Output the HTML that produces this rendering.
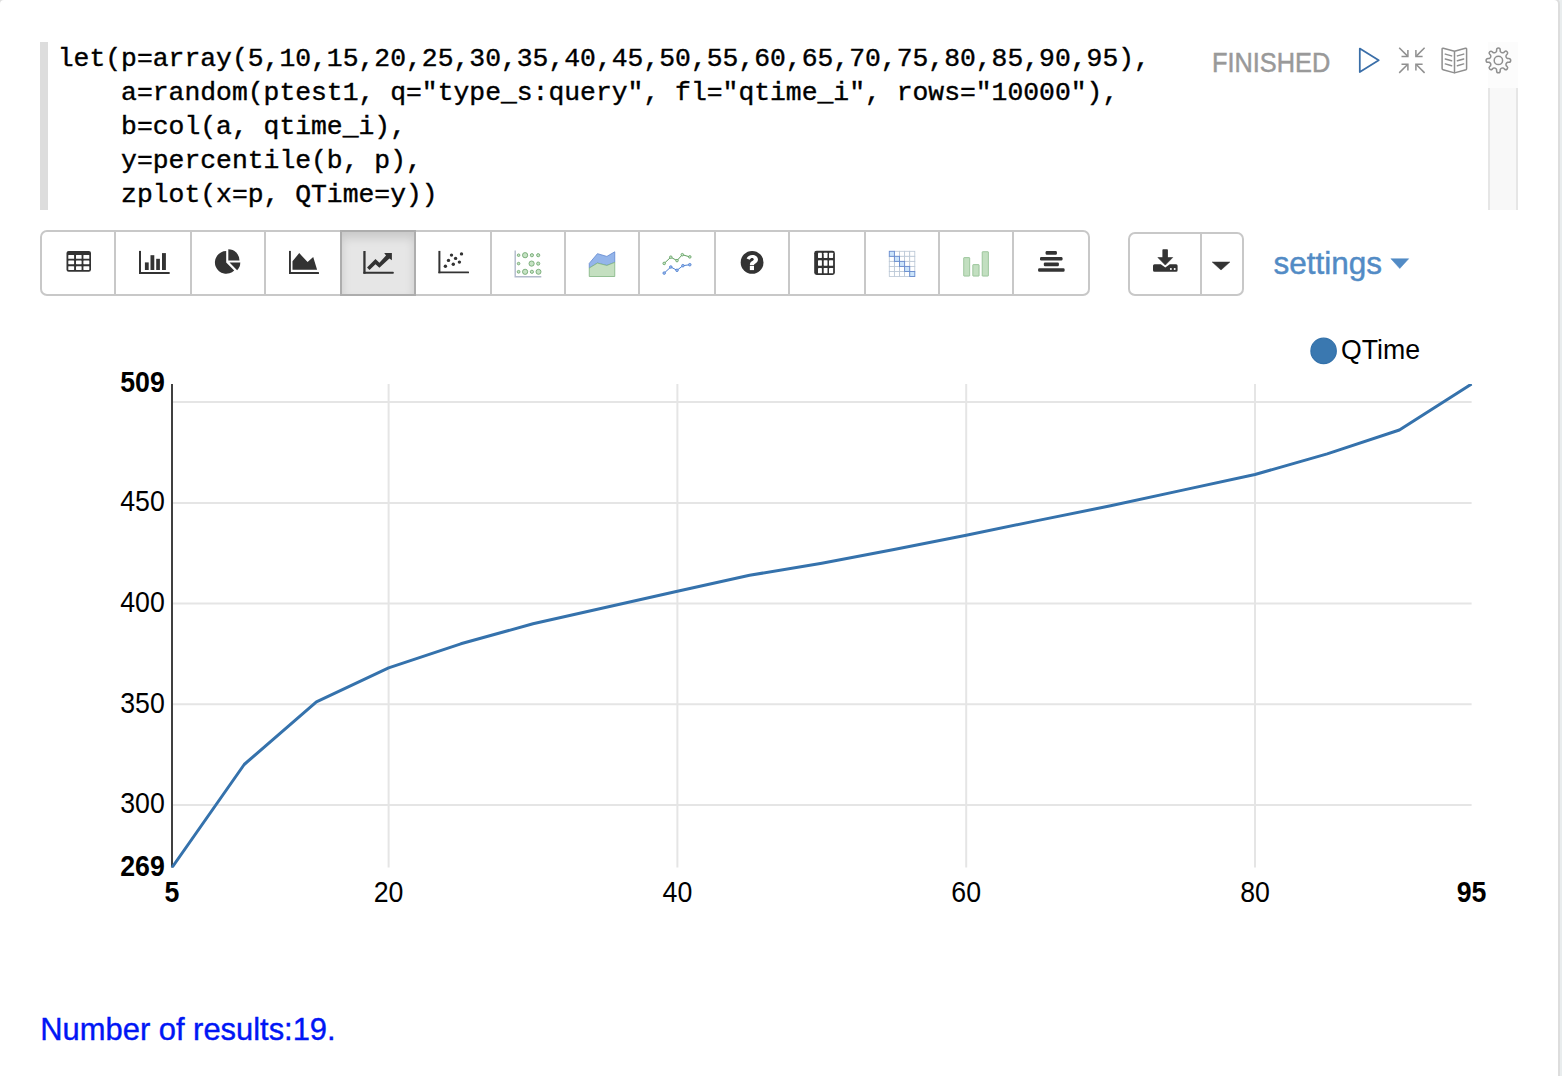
<!DOCTYPE html>
<html><head><meta charset="utf-8">
<style>
html,body{margin:0;padding:0;}
body{width:1562px;height:1076px;overflow:hidden;background:#e9edee;position:relative;font-family:"Liberation Sans",sans-serif;}
#panel{position:absolute;left:-2px;top:-2px;width:1558px;height:1200px;border:2px solid #dddddd;border-radius:6px;background:#fff;}
.abs{position:absolute;}
#codebar{left:40px;top:42px;width:8px;height:168px;background:#dddddd;}
#code{left:57.8px;top:42px;font-family:"Liberation Mono",monospace;font-size:26.39px;line-height:34px;color:#000;-webkit-text-stroke:0.4px #000;white-space:pre;margin:0;}
#scroll{left:1488px;top:88px;width:26px;height:122px;border-left:2px solid #e6e6e6;border-right:2px solid #e6e6e6;background:#f8f8f8;}
#finished{left:1212px;top:46px;-webkit-text-stroke:0.5px #999;font-size:27.4px;color:#999;line-height:34px;transform:scaleX(0.925);transform-origin:0 0;}
.grp{position:absolute;border:2px solid #c8c8c8;border-radius:7px;background:#fff;box-sizing:border-box;}
.sep{position:absolute;width:2px;background:#c8c8c8;}
#settings{left:1273.5px;top:242.5px;-webkit-text-stroke:0.45px #528bc5;font-size:31.5px;color:#528bc5;line-height:40px;}
#nres{left:40.3px;top:1009.6px;-webkit-text-stroke:0.4px #0016f5;font-size:30.9px;color:#0016f5;line-height:40px;}
svg{position:absolute;left:0;top:0;overflow:visible;}
</style></head>
<body>
<div id="panel"></div>
<div class="abs" id="codebar"></div>
<pre class="abs" id="code">let(p=array(5,10,15,20,25,30,35,40,45,50,55,60,65,70,75,80,85,90,95),
    a=random(ptest1, q="type_s:query", fl="qtime_i", rows="10000"),
    b=col(a, qtime_i),
    y=percentile(b, p),
    zplot(x=p, QTime=y))</pre>
<div class="abs" style="left:1488px;top:42px;width:30px;height:46px;background:#fcfcfc;"></div>
<div class="abs" id="scroll"></div>
<div class="abs" id="finished">FINISHED</div>

<!-- toolbar group -->
<div class="grp" style="left:40px;top:230px;width:1050px;height:66px;"></div>
<div class="abs" style="left:340px;top:230px;width:76px;height:66px;box-sizing:border-box;border:2px solid #adadad;background:#e6e6e6;box-shadow:inset 0 6px 10px rgba(0,0,0,.125);"></div>
<div class="sep" style="left:114px;top:230px;height:66px;"></div>
<div class="sep" style="left:190px;top:230px;height:66px;"></div>
<div class="sep" style="left:264px;top:230px;height:66px;"></div>
<div class="sep" style="left:490px;top:230px;height:66px;"></div>
<div class="sep" style="left:564px;top:230px;height:66px;"></div>
<div class="sep" style="left:638px;top:230px;height:66px;"></div>
<div class="sep" style="left:714px;top:230px;height:66px;"></div>
<div class="sep" style="left:788px;top:230px;height:66px;"></div>
<div class="sep" style="left:864px;top:230px;height:66px;"></div>
<div class="sep" style="left:938px;top:230px;height:66px;"></div>
<div class="sep" style="left:1012px;top:230px;height:66px;"></div>

<!-- download group -->
<div class="grp" style="left:1128px;top:232px;width:116px;height:64px;"></div>
<div class="sep" style="left:1200px;top:232px;height:64px;"></div>

<div class="abs" id="settings">settings</div>
<div class="abs" id="nres">Number of results:19.</div>

<svg width="1562" height="1076" viewBox="0 0 1562 1076">
<g id="icons">
<rect x="66.5" y="250.9" width="24.5" height="20.9" rx="2.2" fill="#333333"/>
<rect x="68.3" y="254.9" width="5.8" height="3.9" rx="0.4" fill="#fff"/>
<rect x="68.3" y="260.6" width="5.8" height="3.6" rx="0.4" fill="#fff"/>
<rect x="68.3" y="266.3" width="5.8" height="3.7" rx="0.4" fill="#fff"/>
<rect x="76" y="254.9" width="5.6" height="3.9" rx="0.4" fill="#fff"/>
<rect x="76" y="260.6" width="5.6" height="3.6" rx="0.4" fill="#fff"/>
<rect x="76" y="266.3" width="5.6" height="3.7" rx="0.4" fill="#fff"/>
<rect x="83.4" y="254.9" width="5.9" height="3.9" rx="0.4" fill="#fff"/>
<rect x="83.4" y="260.6" width="5.9" height="3.6" rx="0.4" fill="#fff"/>
<rect x="83.4" y="266.3" width="5.9" height="3.7" rx="0.4" fill="#fff"/>
<rect x="139" y="250.9" width="2" height="22.9" fill="#333333"/>
<rect x="139" y="272" width="30.7" height="1.9" rx="0.5" fill="#333333"/>
<rect x="144.9" y="262.4" width="3.8" height="7.6" fill="#333333"/>
<rect x="150.5" y="255.2" width="3.8" height="14.8" fill="#333333"/>
<rect x="156.2" y="258.8" width="3.7" height="11.2" fill="#333333"/>
<rect x="162" y="253.1" width="3.9" height="16.9" fill="#333333"/>
<path d="M226.2 262.4 V251.1 A11.3 11.3 0 1 0 234.2 270.4 Z" fill="#333333"/>
<path d="M228.3 260.5 V249.3 A11.2 11.2 0 0 1 239.5 260.5 Z" fill="#333333"/>
<path d="M229.5 262.6 H240.3 A10.8 10.8 0 0 1 237.1 270.2 Z" fill="#333333"/>
<rect x="289" y="250.9" width="1.9" height="22.9" fill="#333333"/>
<rect x="289" y="272" width="30" height="1.9" rx="0.5" fill="#333333"/>
<polygon points="292.5,261.3 299.2,253.1 307.6,261.9 313.2,257 317.1,269.8 292.5,269.8" fill="#333333"/>
<rect x="363.3" y="251.1" width="2.3" height="22.7" rx="0.4" fill="#333333"/>
<rect x="363.3" y="271.8" width="30.5" height="2" rx="0.8" fill="#333333"/>
<polygon points="367.03,267.52 375.49,258.93 379.39,262.84 386.03,255.55 384.21,253.08 391.88,253.08 391.88,260.23 389.41,258.41 379.39,267.78 375.49,264.27 369.5,270.12" fill="#333333"/>
<rect x="438.4" y="250.9" width="2" height="22.3" fill="#333333"/>
<rect x="438.4" y="271.5" width="30.6" height="1.8" rx="0.5" fill="#333333"/>
<circle cx="445.4" cy="266.3" r="1.7" fill="#333333"/>
<circle cx="448.5" cy="260.4" r="1.7" fill="#333333"/>
<circle cx="451.5" cy="255.1" r="1.7" fill="#333333"/>
<circle cx="453.3" cy="264.3" r="1.7" fill="#333333"/>
<circle cx="455.6" cy="258.4" r="1.7" fill="#333333"/>
<circle cx="459.4" cy="262.1" r="1.7" fill="#333333"/>
<circle cx="461.5" cy="253.9" r="1.7" fill="#333333"/>
<path d="M515.2 250.6 V276.7 H541.3" fill="none" stroke="#b2bacb" stroke-width="1.4"/>
<circle cx="518.6" cy="255.2" r="1.3" fill="#c6e2c4" stroke="#6fa66f" stroke-width="0.85"/>
<circle cx="525.1" cy="255.2" r="2.6" fill="#c6e2c4" stroke="#6fa66f" stroke-width="0.85"/>
<circle cx="531.9" cy="255.2" r="1.6" fill="#c6e2c4" stroke="#6fa66f" stroke-width="0.85"/>
<circle cx="538.2" cy="255.2" r="1.6" fill="#c6e2c4" stroke="#6fa66f" stroke-width="0.85"/>
<circle cx="518.6" cy="263.6" r="1.3" fill="#c6e2c4" stroke="#6fa66f" stroke-width="0.85"/>
<circle cx="531.6" cy="263.6" r="2.6" fill="#c6e2c4" stroke="#6fa66f" stroke-width="0.85"/>
<circle cx="538.2" cy="263.6" r="1.6" fill="#c6e2c4" stroke="#6fa66f" stroke-width="0.85"/>
<circle cx="518.6" cy="271.8" r="1.4" fill="#c6e2c4" stroke="#6fa66f" stroke-width="0.85"/>
<circle cx="525.1" cy="271.8" r="2.6" fill="#c6e2c4" stroke="#6fa66f" stroke-width="0.85"/>
<circle cx="531.9" cy="271.8" r="1.6" fill="#c6e2c4" stroke="#6fa66f" stroke-width="0.85"/>
<circle cx="538.5" cy="271.8" r="2.5" fill="#c6e2c4" stroke="#6fa66f" stroke-width="0.85"/>
<polygon points="589.25,263.39 597.45,253.66 606.87,256.42 614.76,251.81 614.76,262.36 606.87,265.44 597.45,263.08 589.25,268.0" fill="#94b5ea" stroke="#5f86cf" stroke-width="0.8"/>
<polygon points="589.25,268.0 597.45,263.08 606.87,265.44 614.76,262.36 614.76,276.5 589.25,276.5" fill="#c4dfc0" stroke="#80b480" stroke-width="0.8"/>
<polyline points="664.2,263.4 670.8,257.2 677,260.6 682.3,254.7 689.8,256.9" fill="none" stroke="#5f9f5f" stroke-width="1"/>
<circle cx="664.2" cy="263.4" r="1.3" fill="#c9e5c9" stroke="#5f9f5f" stroke-width="0.8"/>
<circle cx="670.8" cy="257.2" r="1.3" fill="#c9e5c9" stroke="#5f9f5f" stroke-width="0.8"/>
<circle cx="677" cy="260.6" r="1.3" fill="#c9e5c9" stroke="#5f9f5f" stroke-width="0.8"/>
<circle cx="682.3" cy="254.7" r="1.3" fill="#c9e5c9" stroke="#5f9f5f" stroke-width="0.8"/>
<circle cx="689.8" cy="256.9" r="1.3" fill="#c9e5c9" stroke="#5f9f5f" stroke-width="0.8"/>
<polyline points="664.2,273.1 670.8,267 677,270.3 682.9,265.7 689.8,264.7" fill="none" stroke="#4d7fd0" stroke-width="1"/>
<circle cx="664.2" cy="273.1" r="1.3" fill="#9fbcec" stroke="#4d7fd0" stroke-width="0.8"/>
<circle cx="670.8" cy="267" r="1.3" fill="#9fbcec" stroke="#4d7fd0" stroke-width="0.8"/>
<circle cx="677" cy="270.3" r="1.3" fill="#9fbcec" stroke="#4d7fd0" stroke-width="0.8"/>
<circle cx="682.9" cy="265.7" r="1.3" fill="#9fbcec" stroke="#4d7fd0" stroke-width="0.8"/>
<circle cx="689.8" cy="264.7" r="1.3" fill="#9fbcec" stroke="#4d7fd0" stroke-width="0.8"/>
<circle cx="752.1" cy="262.4" r="11.4" fill="#333333"/>
<path d="M746.6 258.4 C747.6 256.2 749.6 254.9 752.3 254.9 C755.5 254.9 758.0 256.9 758.0 259.6 C758.0 262.0 756.2 263.0 755.1 263.7 C754.3 264.2 754.0 264.6 754.0 265.2 L749.9 265.2 L749.9 264.6 C749.9 263.0 750.8 262.0 752.0 261.3 C753.2 260.6 753.8 260.2 753.8 259.3 C753.8 258.5 753.0 257.9 752.1 257.9 C751.1 257.9 750.4 258.5 749.7 259.7 Z" fill="#fff"/>
<rect x="749.85" y="266" width="4.15" height="4.1" fill="#fff"/>
<rect x="814.2" y="250.8" width="20.7" height="24.2" rx="2.4" fill="#333333"/>
<rect x="818" y="252.8" width="3.9" height="5.2" rx="0.4" fill="#fff"/>
<rect x="818" y="260.3" width="3.9" height="5.4" rx="0.4" fill="#fff"/>
<rect x="818" y="268" width="3.9" height="5.3" rx="0.4" fill="#fff"/>
<rect x="823.7" y="252.8" width="3.8" height="5.2" rx="0.4" fill="#fff"/>
<rect x="823.7" y="260.3" width="3.8" height="5.4" rx="0.4" fill="#fff"/>
<rect x="823.7" y="268" width="3.8" height="5.3" rx="0.4" fill="#fff"/>
<rect x="829" y="252.8" width="4.1" height="5.2" rx="0.4" fill="#fff"/>
<rect x="829" y="260.3" width="4.1" height="5.4" rx="0.4" fill="#fff"/>
<rect x="829" y="268" width="4.1" height="5.3" rx="0.4" fill="#fff"/>
<rect x="894.40" y="251.30" width="5.10" height="5.04" fill="#fff" stroke="#bcc8d6" stroke-width="0.85"/>
<rect x="899.50" y="251.30" width="5.10" height="5.04" fill="#fff" stroke="#bcc8d6" stroke-width="0.85"/>
<rect x="904.60" y="251.30" width="5.10" height="5.04" fill="#fff" stroke="#bcc8d6" stroke-width="0.85"/>
<rect x="909.70" y="251.30" width="5.10" height="5.04" fill="#fff" stroke="#bcc8d6" stroke-width="0.85"/>
<rect x="889.30" y="256.34" width="5.10" height="5.04" fill="#fff" stroke="#bcc8d6" stroke-width="0.85"/>
<rect x="899.50" y="256.34" width="5.10" height="5.04" fill="#fff" stroke="#bcc8d6" stroke-width="0.85"/>
<rect x="904.60" y="256.34" width="5.10" height="5.04" fill="#fff" stroke="#bcc8d6" stroke-width="0.85"/>
<rect x="909.70" y="256.34" width="5.10" height="5.04" fill="#fff" stroke="#bcc8d6" stroke-width="0.85"/>
<rect x="889.30" y="261.38" width="5.10" height="5.04" fill="#fff" stroke="#bcc8d6" stroke-width="0.85"/>
<rect x="894.40" y="261.38" width="5.10" height="5.04" fill="#fff" stroke="#bcc8d6" stroke-width="0.85"/>
<rect x="904.60" y="261.38" width="5.10" height="5.04" fill="#fff" stroke="#bcc8d6" stroke-width="0.85"/>
<rect x="909.70" y="261.38" width="5.10" height="5.04" fill="#fff" stroke="#bcc8d6" stroke-width="0.85"/>
<rect x="889.30" y="266.42" width="5.10" height="5.04" fill="#fff" stroke="#bcc8d6" stroke-width="0.85"/>
<rect x="894.40" y="266.42" width="5.10" height="5.04" fill="#fff" stroke="#bcc8d6" stroke-width="0.85"/>
<rect x="899.50" y="266.42" width="5.10" height="5.04" fill="#fff" stroke="#bcc8d6" stroke-width="0.85"/>
<rect x="909.70" y="266.42" width="5.10" height="5.04" fill="#fff" stroke="#bcc8d6" stroke-width="0.85"/>
<rect x="889.30" y="271.46" width="5.10" height="5.04" fill="#fff" stroke="#bcc8d6" stroke-width="0.85"/>
<rect x="894.40" y="271.46" width="5.10" height="5.04" fill="#fff" stroke="#bcc8d6" stroke-width="0.85"/>
<rect x="899.50" y="271.46" width="5.10" height="5.04" fill="#fff" stroke="#bcc8d6" stroke-width="0.85"/>
<rect x="904.60" y="271.46" width="5.10" height="5.04" fill="#fff" stroke="#bcc8d6" stroke-width="0.85"/>
<rect x="889.30" y="251.30" width="5.10" height="5.04" fill="#cce5fb" stroke="#6a8dce" stroke-width="0.95"/>
<rect x="894.40" y="256.34" width="5.10" height="5.04" fill="#cce5fb" stroke="#6a8dce" stroke-width="0.95"/>
<rect x="899.50" y="261.38" width="5.10" height="5.04" fill="#cce5fb" stroke="#6a8dce" stroke-width="0.95"/>
<rect x="904.60" y="266.42" width="5.10" height="5.04" fill="#cce5fb" stroke="#6a8dce" stroke-width="0.95"/>
<rect x="909.70" y="271.46" width="5.10" height="5.04" fill="#cce5fb" stroke="#6a8dce" stroke-width="0.95"/>
<rect x="963.6999999999999" y="257.59999999999997" width="6.0" height="18.5" rx="0.5" fill="#c2dfc0" stroke="#8dbd8d" stroke-width="0.8"/>
<rect x="972.8" y="264.59999999999997" width="6.3" height="11.5" rx="0.5" fill="#c2dfc0" stroke="#8dbd8d" stroke-width="0.8"/>
<rect x="982.1999999999999" y="251.70000000000002" width="6.2" height="24.4" rx="0.5" fill="#c2dfc0" stroke="#8dbd8d" stroke-width="0.8"/>
<rect x="1045.6" y="251.1" width="11.3" height="3.6" rx="1.2" fill="#333333"/>
<rect x="1040" y="257" width="22.5" height="3.5" rx="1.2" fill="#333333"/>
<rect x="1043.8" y="262.6" width="15.1" height="3.6" rx="1.2" fill="#333333"/>
<rect x="1038.1" y="268.2" width="26.5" height="3.6" rx="1.2" fill="#333333"/>
<rect x="1162.4" y="249.3" width="5.5" height="9" rx="0.8" fill="#333333"/>
<polygon points="1157.9,257.5 1172.7,257.5 1165.3,265.1" fill="#333333" stroke="#333333" stroke-width="0.6" stroke-linejoin="round"/>
<path d="M1154.5 264.3 H1160.8 L1165.3 267.6 L1169.8 264.3 H1176.1 Q1177.6 264.3 1177.6 265.8 V270.3 Q1177.6 271.8 1176.1 271.8 H1154.5 Q1153 271.8 1153 270.3 V265.8 Q1153 264.3 1154.5 264.3 Z" fill="#333333"/>
<circle cx="1170.9" cy="269.1" r="1" fill="#fff"/><circle cx="1174.7" cy="269.1" r="1" fill="#fff"/>
<polygon points="1212.2,262 1229.9,262 1221,270" fill="#333333" stroke="#333333" stroke-width="0.5" stroke-linejoin="round"/>
<polygon points="1390.9,258.7 1408.7,258.7 1399.8,268.5" fill="#528bc5" stroke="#528bc5" stroke-width="0.5" stroke-linejoin="round"/>
<polygon points="1359.8,48.6 1378.7,60.3 1359.8,72" fill="none" stroke="#3a6ea8" stroke-width="1.75" stroke-linejoin="round"/>
<g fill="none" stroke="#8f8f8f" stroke-width="1.5" stroke-linecap="butt">
<line x1="1399.2" y1="47.8" x2="1407.3" y2="55.9"/><polyline points="1407.9,50.1 1407.9,56.4 1401.5,56.4"/>
<line x1="1424.6" y1="47.8" x2="1416.5" y2="55.9"/><polyline points="1415.9,50.1 1415.9,56.4 1422.6,56.4"/>
<line x1="1399.2" y1="72.9" x2="1407.3" y2="64.8"/><polyline points="1401.5,64.2 1407.9,64.2 1407.9,70.6"/>
<line x1="1424.6" y1="72.9" x2="1416.5" y2="64.8"/><polyline points="1422.6,64.2 1415.9,64.2 1415.9,70.6"/>
</g>
<g fill="none" stroke="#8f8f8f" stroke-width="1.5" stroke-linejoin="round" stroke-linecap="round">
<path d="M1454.5 51.3 L1443.3 48.3 Q1442.1 48 1442.1 49.3 V68.4 Q1442.1 69.4 1443.1 69.7 L1454.5 72.9 L1465.9 69.7 Q1466.6 69.4 1466.6 68.4 V49.3 Q1466.6 48 1465.4 48.3 Z M1454.5 51.3 V72.9"/>
<line x1="1445.3" y1="54.1" x2="1451.6" y2="55.9"/><line x1="1457.4" y1="55.9" x2="1463.7" y2="54.1"/>
<line x1="1445.3" y1="59.0" x2="1451.6" y2="60.8"/><line x1="1457.4" y1="60.8" x2="1463.7" y2="59.0"/>
<line x1="1445.3" y1="63.9" x2="1451.6" y2="65.7"/><line x1="1457.4" y1="65.7" x2="1463.7" y2="63.9"/>
</g>
<path d="M1496.60 51.20 L1496.60 49.90 A1.8 1.8 0 0 1 1500.20 49.90 L1500.20 51.20 A2.6 2.6 0 0 0 1503.63 52.62 L1504.55 51.70 A1.8 1.8 0 0 1 1507.10 54.25 L1506.18 55.17 A2.6 2.6 0 0 0 1507.60 58.60 L1508.90 58.60 A1.8 1.8 0 0 1 1508.90 62.20 L1507.60 62.20 A2.6 2.6 0 0 0 1506.18 65.63 L1507.10 66.55 A1.8 1.8 0 0 1 1504.55 69.10 L1503.63 68.18 A2.6 2.6 0 0 0 1500.20 69.60 L1500.20 70.90 A1.8 1.8 0 0 1 1496.60 70.90 L1496.60 69.60 A2.6 2.6 0 0 0 1493.17 68.18 L1492.25 69.10 A1.8 1.8 0 0 1 1489.70 66.55 L1490.62 65.63 A2.6 2.6 0 0 0 1489.20 62.20 L1487.90 62.20 A1.8 1.8 0 0 1 1487.90 58.60 L1489.20 58.60 A2.6 2.6 0 0 0 1490.62 55.17 L1489.70 54.25 A1.8 1.8 0 0 1 1492.25 51.70 L1493.17 52.62 A2.6 2.6 0 0 0 1496.60 51.20 Z" fill="none" stroke="#8f8f8f" stroke-width="1.5" stroke-linejoin="round"/>
<circle cx="1498.4" cy="60.4" r="4.2" fill="none" stroke="#8f8f8f" stroke-width="1.5"/>
</g>
<g id="chart" font-family="Liberation Sans, sans-serif">
<line x1="172.0" y1="805.1" x2="1471.6" y2="805.1" stroke="#e5e5e5" stroke-width="2"/>
<line x1="172.0" y1="704.3" x2="1471.6" y2="704.3" stroke="#e5e5e5" stroke-width="2"/>
<line x1="172.0" y1="603.6" x2="1471.6" y2="603.6" stroke="#e5e5e5" stroke-width="2"/>
<line x1="172.0" y1="502.9" x2="1471.6" y2="502.9" stroke="#e5e5e5" stroke-width="2"/>
<line x1="172.0" y1="402.1" x2="1471.6" y2="402.1" stroke="#e5e5e5" stroke-width="2"/>
<line x1="388.6" y1="384" x2="388.6" y2="867.5" stroke="#e5e5e5" stroke-width="2"/>
<line x1="677.4" y1="384" x2="677.4" y2="867.5" stroke="#e5e5e5" stroke-width="2"/>
<line x1="966.2" y1="384" x2="966.2" y2="867.5" stroke="#e5e5e5" stroke-width="2"/>
<line x1="1255.0" y1="384" x2="1255.0" y2="867.5" stroke="#e5e5e5" stroke-width="2"/>
<line x1="172" y1="384" x2="172" y2="867.5" stroke="#404040" stroke-width="2"/>
<clipPath id="cl"><rect x="170" y="384.1" width="1302.5" height="483.7"/></clipPath>
<polyline clip-path="url(#cl)" points="172.0,867.5 244.2,764.5 316.4,701.8 388.6,667.8 460.8,643.8 533.0,623.8 605.2,607.5 677.4,591.2 749.6,575.3 821.8,563.2 894.0,549.5 966.2,535.2 1038.4,520.4 1110.6,505.8 1182.8,490.1 1255.0,474.5 1327.2,453.9 1399.4,430.0 1471.6,384.0" fill="none" stroke="#3572ac" stroke-width="3" stroke-linejoin="round"/>
<text transform="translate(164.8 392.2) scale(1 1.07)" font-size="26.7" text-anchor="end" font-weight="bold">509</text>
<text transform="translate(164.8 511.1) scale(1 1.07)" font-size="26.7" text-anchor="end">450</text>
<text transform="translate(164.8 611.8) scale(1 1.07)" font-size="26.7" text-anchor="end">400</text>
<text transform="translate(164.8 712.5) scale(1 1.07)" font-size="26.7" text-anchor="end">350</text>
<text transform="translate(164.8 813.3) scale(1 1.07)" font-size="26.7" text-anchor="end">300</text>
<text transform="translate(164.8 875.7) scale(1 1.07)" font-size="26.7" text-anchor="end" font-weight="bold">269</text>
<text transform="translate(172.0 902.3) scale(1 1.07)" font-size="26.7" text-anchor="middle" font-weight="bold">5</text>
<text transform="translate(388.6 902.3) scale(1 1.07)" font-size="26.7" text-anchor="middle">20</text>
<text transform="translate(677.4 902.3) scale(1 1.07)" font-size="26.7" text-anchor="middle">40</text>
<text transform="translate(966.2 902.3) scale(1 1.07)" font-size="26.7" text-anchor="middle">60</text>
<text transform="translate(1255.0 902.3) scale(1 1.07)" font-size="26.7" text-anchor="middle">80</text>
<text transform="translate(1471.6 902.3) scale(1 1.07)" font-size="26.7" text-anchor="middle" font-weight="bold">95</text>
<circle cx="1323.6" cy="350.9" r="12.7" fill="#3a78b0" stroke="#3371aa" stroke-width="1.2"/>
<text transform="translate(1341 359.2) scale(1 1.03)" font-size="26.7">QTime</text>
</g>
</svg>
</body></html>
